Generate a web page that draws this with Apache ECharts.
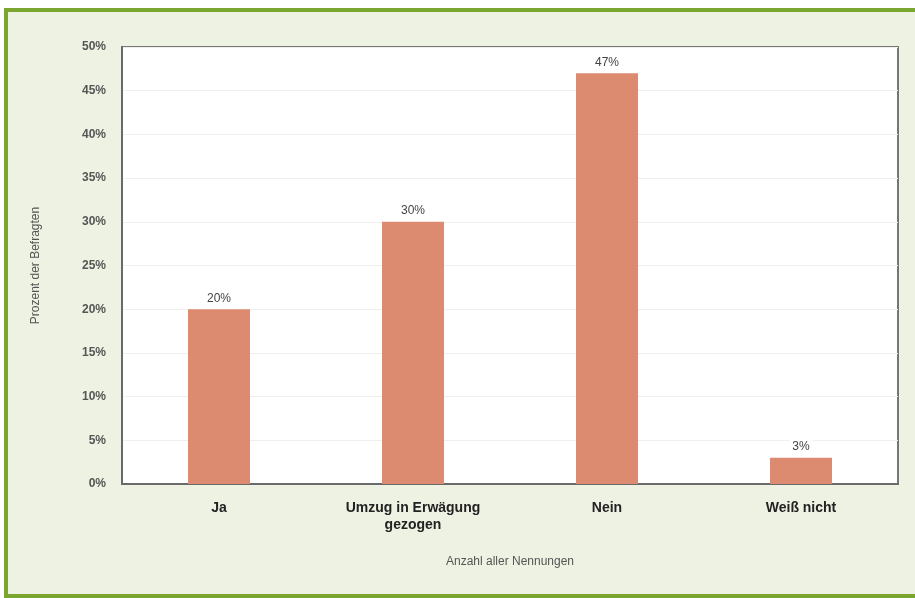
<!DOCTYPE html>
<html>
<head>
<meta charset="utf-8">
<script src="https://cdn.jsdelivr.net/npm/echarts@6/dist/echarts.min.js"></script>
<style>
  html, body { margin: 0; padding: 0; background: #ffffff; width: 915px; height: 598px; overflow: hidden; }
  #frame { position: absolute; left: 4px; top: 8px; width: 920px; height: 582px; border: 4px solid #7aa52f; background: #eef2e3; }
  #chart { position: absolute; left: 0; top: 0; width: 915px; height: 598px; }
</style>
</head>
<body>
<div id="frame"></div>
<div id="chart"></div>
<script>
// Antworten auf die Umzugsfrage, Anteil der Befragten in Prozent
const categories = ['Ja', 'Umzug in Erwägung\ngezogen', 'Nein', 'Weiß nicht'];
const shares = [20, 30, 47, 3];
const yTicks = { min: 0, max: 50, step: 5 };

const chart = echarts.init(document.getElementById('chart'), null, { renderer: 'canvas' });
chart.setOption({
  backgroundColor: 'transparent',
  animation: false,
  textStyle: { fontFamily: 'Liberation Sans, Arial, sans-serif' },
  grid: {
    left: 122, right: 17, top: 47, bottom: 114,
    show: true, backgroundColor: '#ffffff', borderColor: '#767676', borderWidth: 2
  },
  xAxis: {
    type: 'category',
    data: categories,
    name: 'Anzahl aller Nennungen',
    nameLocation: 'middle',
    nameGap: 72,
    nameTextStyle: { color: '#555', fontSize: 12 },
    axisLine: { show: true, lineStyle: { color: '#6a6a6a', width: 2 } },
    axisTick: { show: false },
    axisLabel: { color: '#222', fontSize: 14, fontWeight: 'bold', margin: 16, lineHeight: 17 }
  },
  yAxis: {
    type: 'value',
    min: yTicks.min, max: yTicks.max, interval: yTicks.step,
    name: 'Prozent der Befragten',
    nameLocation: 'middle',
    nameGap: 80,
    nameRotate: 90,
    nameTextStyle: { color: '#555', fontSize: 12 },
    axisLine: { show: true, lineStyle: { color: '#6a6a6a', width: 2 } },
    axisTick: { show: false },
    axisLabel: { color: '#555', fontSize: 12, fontWeight: 'bold', margin: 16, formatter: '{value}%' },
    splitLine: { show: true, lineStyle: { color: '#f0efec', width: 1 } }
  },
  series: [{
    type: 'bar',
    data: shares,
    barWidth: 62,
    itemStyle: { color: '#dc8b70' },
    label: {
      show: true, position: 'top', distance: 4,
      formatter: '{c}%', color: '#444', fontSize: 12,
      backgroundColor: 'rgba(255,255,255,0.9)', padding: [1, 3]
    }
  }]
});
</script>
</body>
</html>
